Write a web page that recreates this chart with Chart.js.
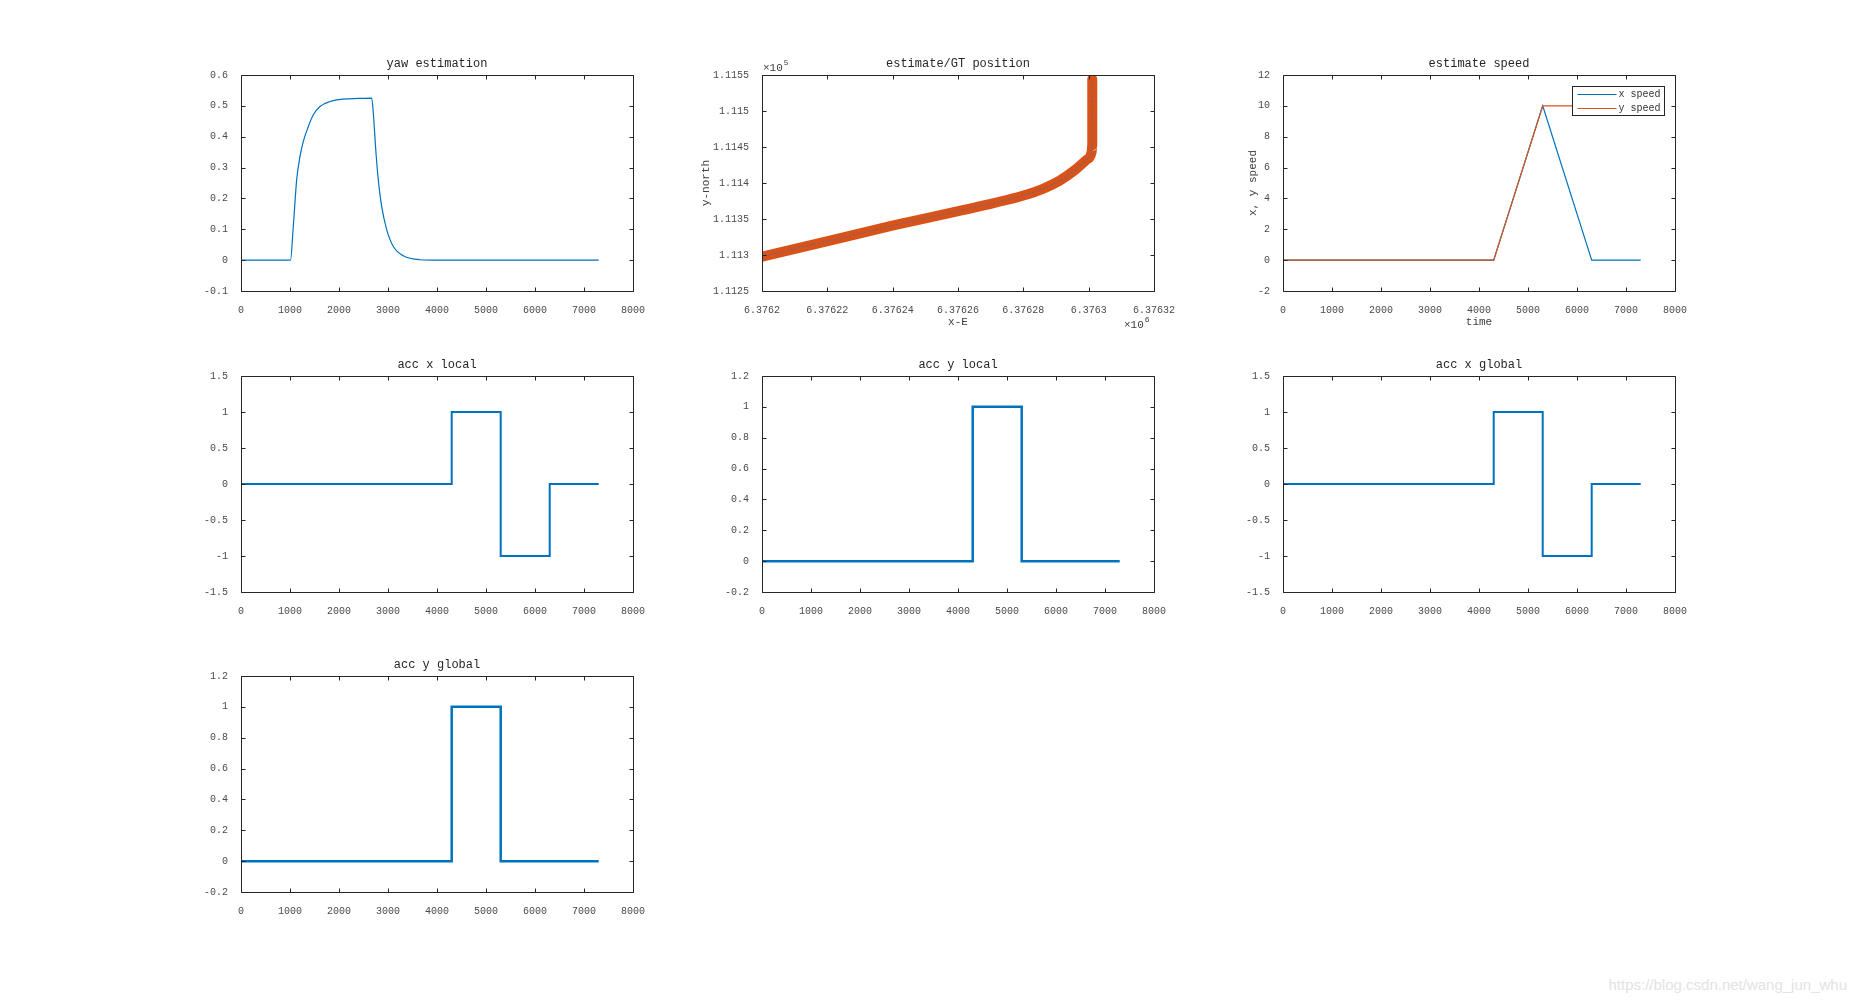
<!DOCTYPE html>
<html>
<head>
<meta charset="utf-8">
<script src="https://cdn.jsdelivr.net/npm/chart.js@4.4.0/dist/chart.umd.min.js"></script>
<style>
  body { margin: 0; background: #fff; width: 1855px; height: 1003px; position: relative; overflow: hidden; }
  canvas { position: absolute; }
  #mark { position: absolute; right: 8px; top: 976px; font: 15px "Liberation Sans", sans-serif; color: #e3e3e3; }
</style>
</head>
<body>
<div id="mark">https://blog.csdn.net/wang_jun_whu</div>
<script>
// tick labels
var timeTicks = [0, 1000, 2000, 3000, 4000, 5000, 6000, 7000, 8000];
var yawTicks = [-0.1, 0, 0.1, 0.2, 0.3, 0.4, 0.5, 0.6];
var posXTicks = [6376200, 6376220, 6376240, 6376260, 6376280, 6376300, 6376320];
var posYTicks = [111250, 111300, 111350, 111400, 111450, 111500, 111550];
var speedTicks = [-2, 0, 2, 4, 6, 8, 10, 12];
var accXTicks = [-1.5, -1, -0.5, 0, 0.5, 1, 1.5];
var accYTicks = [-0.2, 0, 0.2, 0.4, 0.6, 0.8, 1, 1.2];

// yaw estimation
var yawT = [0, 1010, 1067, 1136, 1204, 1272, 1374, 1476, 1612, 1816, 2088, 2400, 2667, 2700, 2755, 2802, 2871, 2973, 3109, 3312, 3653, 4000, 5000, 6000, 7300];
var yawV = [0, 0, 0.109, 0.26, 0.336, 0.385, 0.433, 0.471, 0.498, 0.514, 0.522, 0.524, 0.525, 0.477, 0.347, 0.26, 0.174, 0.099, 0.044, 0.014, 0.0013, 0, 0, 0, 0];

// estimate / GT position
var posE = [6376200.4, 6376219.8, 6376240.2, 6376260.1, 6376279.5, 6376286, 6376291, 6376295.8, 6376299.3, 6376300.9, 6376301.1, 6376301.1];
var posN = [111298, 111319, 111341, 111361, 111382, 111392, 111403, 111418, 111432, 111443, 111452, 111544];

// estimate speed
var speedXT = [0, 4300, 5300, 6300, 7300];
var speedXV = [0, 0, 10, 0, 0];
var speedYT = [0, 4300, 5300, 7300];
var speedYV = [0, 0, 10, 10];

// accelerations
var accXT = [0, 4300, 4300, 5300, 5300, 6300, 6300, 7300];
var accXV = [0, 0, 1, 1, -1, -1, 0, 0];
var accYT = [0, 4300, 4300, 5300, 5300, 7300];
var accYV = [0, 0, 1, 1, 0, 0];

var BLUE = '#0072BD', ORANGE = '#D95319';
var FONT = '"Liberation Mono", monospace';
var PL = 90, PT = 40, PR = 40, PB = 70, W = 392, H = 216;

function pts(xs, ys) { return xs.map(function(v, i) { return { x: v, y: ys[i] }; }); }
function fmt(v) { return String(parseFloat(v.toFixed(6))); }

// box, inward ticks and the texts around each axes
var matlabAxes = {
  id: 'matlabAxes',
  afterDatasetsDraw: function(chart) {
    var o = chart.options.plugins.matlabAxes;
    var ctx = chart.ctx, a = chart.chartArea, sx = chart.scales.x, sy = chart.scales.y;
    var l = Math.round(a.left) + 0.5, r = Math.round(a.right) + 0.5;
    var t = Math.round(a.top) + 0.5, b = Math.round(a.bottom) + 0.5;
    ctx.save();
    ctx.strokeStyle = '#262626';
    ctx.lineWidth = 1;
    ctx.beginPath();
    sx.ticks.forEach(function(k) {
      var p = Math.round(sx.getPixelForValue(k.value)) + 0.5;
      ctx.moveTo(p, b); ctx.lineTo(p, b - 4);
      ctx.moveTo(p, t); ctx.lineTo(p, t + 4);
    });
    sy.ticks.forEach(function(k) {
      var p = Math.round(sy.getPixelForValue(k.value)) + 0.5;
      ctx.moveTo(l, p); ctx.lineTo(l + 4, p);
      ctx.moveTo(r, p); ctx.lineTo(r - 4, p);
    });
    ctx.rect(l, t, r - l, b - t);
    ctx.stroke();

    var cx = (a.left + a.right) / 2, cy = (a.top + a.bottom) / 2;
    ctx.fillStyle = '#262626';
    ctx.textAlign = 'center';
    ctx.textBaseline = 'middle';
    ctx.font = '12px ' + FONT;
    ctx.fillText(o.title, cx, a.top - 11);
    ctx.font = '11px ' + FONT;
    ctx.fillStyle = '#404040';
    if (o.xLabel) ctx.fillText(o.xLabel, cx, a.bottom + 31);
    if (o.yLabel) {
      ctx.save();
      ctx.translate(a.left - o.yLabelGap, cy);
      ctx.rotate(-Math.PI / 2);
      ctx.fillText(o.yLabel, 0, 0);
      ctx.restore();
    }
    function exp(x, y, p) {
      ctx.textAlign = 'left';
      ctx.font = '11px ' + FONT;
      ctx.fillText('\u00d710', x, y);
      var w = ctx.measureText('\u00d710').width;
      ctx.font = '8px ' + FONT;
      ctx.fillText(p, x + w + 1, y - 5);
    }
    if (o.yExp) exp(a.left + 1, a.top - 7, o.yExp);
    if (o.xExp) exp(a.right - 30, a.bottom + 34, o.xExp);

    if (o.legend) {
      var bx = Math.round(a.right - 11 - 92) + 0.5, by = Math.round(a.top + 11) + 0.5;
      ctx.fillStyle = '#fff';
      ctx.fillRect(bx, by, 92, 29);
      ctx.strokeStyle = '#262626';
      ctx.strokeRect(bx, by, 92, 29);
      ctx.font = '10px ' + FONT;
      ctx.textAlign = 'left';
      o.legend.forEach(function(it, i) {
        var ly = by + 8 + i * 14;
        ctx.strokeStyle = it.color;
        ctx.beginPath();
        ctx.moveTo(bx + 5, ly); ctx.lineTo(bx + 44, ly);
        ctx.stroke();
        ctx.fillStyle = '#333';
        ctx.fillText(it.label, bx + 46, ly);
      });
    }
    ctx.restore();
  }
};

function axis(ticks, fmtFn, pad) {
  return {
    type: 'linear',
    min: ticks[0],
    max: ticks[ticks.length - 1],
    grid: { display: false },
    border: { display: false },
    ticks: {
      autoSkip: false, maxRotation: 0, padding: pad, color: '#4a4a4a',
      font: { family: FONT, size: 10 },
      callback: fmtFn || fmt
    },
    afterBuildTicks: function(s) { s.ticks = ticks.map(function(v) { return { value: v }; }); }
  };
}

function makePlot(left, top, datasets, xTicks, yTicks, extra) {
  var c = document.createElement('canvas');
  c.width = W + PL + PR;
  c.height = H + PT + PB;
  c.style.left = (left - PL) + 'px';
  c.style.top = (top - PT) + 'px';
  document.body.appendChild(c);
  var xs = axis(xTicks, extra.xFmt, 5);
  var ys = axis(yTicks, extra.yFmt, 5);
  xs.afterFit = function(s) { s.height = PB; };
  ys.afterFit = function(s) { s.width = PL; };
  new Chart(c.getContext('2d'), {
    type: 'line',
    data: { datasets: datasets },
    options: {
      responsive: false,
      animation: false,
      layout: { padding: { left: 0, top: PT, right: PR, bottom: 0 } },
      scales: { x: xs, y: ys },
      elements: { point: { radius: 0 }, line: { tension: 0 } },
      plugins: { legend: { display: false }, tooltip: { enabled: false }, matlabAxes: extra }
    },
    plugins: [matlabAxes]
  });
}

function line(xs, ys, color, width, extra) {
  var d = { data: pts(xs, ys), borderColor: color, borderWidth: width, fill: false };
  for (var k in extra) d[k] = extra[k];
  return d;
}

var cols = [241, 762, 1283], rows = [75, 376, 676];

makePlot(cols[0], rows[0], [line(yawT, yawV, BLUE, 1.2, { cubicInterpolationMode: 'monotone' })],
  timeTicks, yawTicks, { title: 'yaw estimation' });

makePlot(cols[1], rows[0], [
    line(posE, posN, 'rgba(70,110,170,0.6)', 1.5, { borderDash: [2, 2], cubicInterpolationMode: 'monotone', order: 1 }),
    line(posE, posN, ORANGE, 10, { cubicInterpolationMode: 'monotone', borderCapStyle: 'round', borderJoinStyle: 'round', order: 2 })
  ],
  posXTicks, posYTicks, {
    title: 'estimate/GT position', xLabel: 'x-E', yLabel: 'y-north', yLabelGap: 56,
    xExp: '6', yExp: '5',
    xFmt: function(v) { return fmt(v / 1e6); },
    yFmt: function(v) { return fmt(v / 1e5); }
  });

makePlot(cols[2], rows[0], [
    line(speedXT, speedXV, BLUE, 1.2, { order: 2 }),
    line(speedYT, speedYV, ORANGE, 1.2, { order: 1 })
  ],
  timeTicks, speedTicks, {
    title: 'estimate speed', xLabel: 'time', yLabel: 'x, y speed', yLabelGap: 30,
    legend: [{ label: 'x speed', color: BLUE }, { label: 'y speed', color: ORANGE }]
  });

makePlot(cols[0], rows[1], [line(accXT, accXV, BLUE, 2)], timeTicks, accXTicks, { title: 'acc x local' });
makePlot(cols[1], rows[1], [line(accYT, accYV, BLUE, 2.5)], timeTicks, accYTicks, { title: 'acc y local' });
makePlot(cols[2], rows[1], [line(accXT, accXV, BLUE, 2)], timeTicks, accXTicks, { title: 'acc x global' });
makePlot(cols[0], rows[2], [line(accYT, accYV, BLUE, 2.5)], timeTicks, accYTicks, { title: 'acc y global' });
</script>
</body>
</html>
